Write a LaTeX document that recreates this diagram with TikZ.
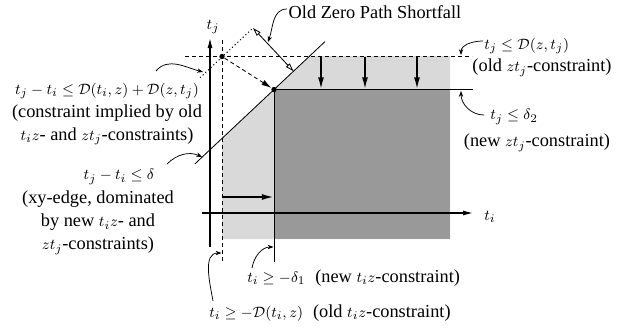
\documentclass[tikz,border=0pt]{standalone}
\usepackage{fontspec}
\setmainfont{Liberation Serif}
\DeclareMathSizes{11}{9.5}{7}{5}
\usetikzlibrary{arrows.meta}
\begin{document}
\begin{tikzpicture}[x=0.6pt,y=-0.6pt,
  lbl/.style={font=\fontsize{11}{13.8}\selectfont, inner sep=0pt, align=center},
  callout/.style={line width=0.45pt, -{Stealth[length=3.5pt,width=2.6pt]}},
  axis/.style={line width=0.7pt, -{Latex[length=6pt,width=3pt]}},
  push/.style={line width=0.9pt, -{Latex[length=7pt,width=3.6pt]}},
  dsh/.style={line width=0.5pt, dash pattern=on 2.4pt off 1.8pt},
  dot/.style={circle, fill=black, inner sep=0pt, minimum size=3.2pt}]
\useasboundingbox (0,0) rectangle (629,328);
\definecolor{lightg}{gray}{0.85}
\definecolor{darkg}{gray}{0.6}
% regions
\fill[lightg] (222,239) -- (450,239) -- (450,56) -- (309.7,56) -- (222,138.4) -- cycle;
\fill[darkg] (274,89.5) rectangle (450,239);
% coordinates
\coordinate (dTop) at (325,41.6);
\coordinate (dBot) at (195,163.8);
\coordinate (dotA) at (200,77.7);
\coordinate (dotB) at (253,28);
\coordinate (dimA) at (253,28);
\coordinate (dimB) at (293.5,71.2);
% lines
\draw[dsh] (185,56) -- (472,56);
\draw[dsh] (222,40) -- (222,262);
\draw[line width=0.6pt] (274,89.5) -- (473,89.5);
\draw[line width=0.6pt] (274,89.5) -- (274,262);
\draw[line width=0.5pt] (dBot) -- (dTop);
\draw[line width=0.55pt, dash pattern=on 0.7pt off 1.5pt] (dotA) -- (dotB);
% axes
\coordinate (yb) at (210,247);
\coordinate (yt) at (210,38);
\coordinate (xl) at (202,213);
\coordinate (xr) at (473,213);
\draw[axis] (yb) -- (yt);
\draw[axis] (xl) -- (xr);
\node[lbl] (tjl) at (213,27) {$t_j$};
\node[lbl, anchor=west] (til) at (484,217) {$t_i$};
% push arrows
\foreach \x/\n in {321/a,365/b,417/c}{
  \coordinate (pd\n s) at (\x,57);
  \coordinate (pd\n e) at (\x,89);
  \draw[push] (pd\n s) -- (pd\n e);
}
\coordinate (prs) at (222,197);
\coordinate (pre) at (273.5,197);
\draw[push] (prs) -- (pre);
% points
\node[dot] (old) at (222,56.5) {};
\node[dot] (new) at (274,89.5) {};
\draw[dsh, -{Latex[length=6pt,width=3.4pt]}] (old) -- (new);
% dimension arrow
\draw[line width=0.5pt, {Triangle[open,fill=white,length=5pt,width=3pt]}-{Triangle[open,fill=white,length=5pt,width=3pt]}] (dimA) -- (dimB);
% labels
\node[lbl] (ozp) at (375,12) {Old Zero Path Shortfall};
\coordinate (ozpt) at (268,42);
\draw[callout] (287,9) to[out=180,in=70] (ozpt);

\node[lbl] (impl) at (107,114) {$t_j - t_i \le \mathcal{D}(t_i,z) + \mathcal{D}(z,t_j)$\\(constraint implied by old\\$t_iz$- and $zt_j$-constraints)};
\coordinate (implt) at (203,72);
\draw[callout] (156,71) to[out=50,in=165] (implt);

\node[lbl] (xym) at (119,177) {$t_j - t_i \le \delta$};
\node[lbl] (xy) at (98,222.5) {(xy-edge, dominated\\by new $t_iz$- and\\$zt_j$-constraints)};
\coordinate (xyt) at (202,157);
\draw[callout] (167,164) to[out=45,in=155] (xyt);

\node[lbl, anchor=west] (tjd) at (484,46) {$t_j \le \mathcal{D}(z,t_j)$};
\node[lbl] (oldzt) at (542,68) {(old $zt_j$-constraint)};
\coordinate (tjdt) at (461,55);
\draw[callout] (483,41) to[out=180,in=90] (tjdt);

\node[lbl, anchor=west] (tjd2) at (490,117) {$t_j \le \delta_2$};
\node[lbl] (newzt) at (537,143) {(new $zt_j$-constraint)};
\coordinate (tjd2t) at (461,91);
\draw[callout] (484,115) to[out=180,in=-90] (tjd2t);

\node[lbl, anchor=west] (newti) at (247,278) {$t_i \ge -\delta_1$\hspace{6pt}(new $t_iz$-constraint)};
\coordinate (newtit) at (273.5,247);
\draw[callout] (252,268) to[out=80,in=180] (newtit);

\node[lbl, anchor=west] (oldti) at (209,313) {$t_i \ge -\mathcal{D}(t_i,z)$\hspace{6pt}(old $t_iz$-constraint)};
\coordinate (oldtit) at (221.5,253);
\draw[callout] (213,301) to[out=100,in=180] (oldtit);
\end{tikzpicture}
\end{document}
